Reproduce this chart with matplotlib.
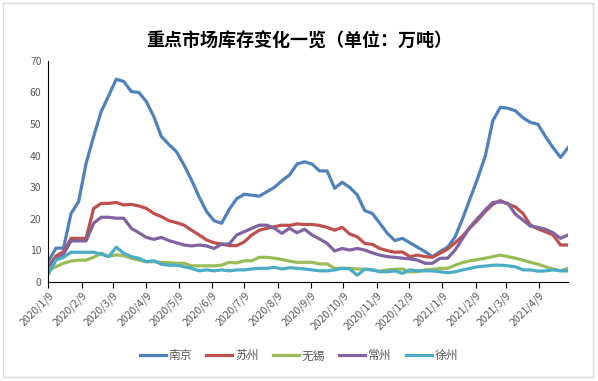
import matplotlib
matplotlib.use('Agg')
import matplotlib.pyplot as plt
import matplotlib.dates as mdates
import pandas as pd
from matplotlib.patches import Rectangle

plt.rcParams['font.family'] = ['Noto Sans CJK SC', 'DejaVu Sans']

# weekly dates, 2020/1/9 .. 2021/5/6
dates = pd.date_range('2020-01-09', periods=70, freq='7D')

nanjing = [6.5, 10.6, 10.6, 21.6, 25.3, 37.5, 46.0, 53.9, 59.0, 64.2,
           63.5, 60.3, 60.0, 57.1, 52.3, 46.0, 43.5, 41.2, 37.0, 32.2,
           26.9, 22.2, 19.3, 18.5, 22.9, 26.3, 27.7, 27.4, 27.1, 28.5,
           29.9, 32.0, 33.8, 37.3, 38.0, 37.3, 35.1, 35.1, 29.6, 31.5,
           29.9, 27.5, 22.5, 21.6, 18.5, 15.3, 13.0, 13.7, 12.3, 10.9,
           9.5, 7.9, 9.5, 10.9, 14.2, 20.0, 26.4, 32.8, 39.8, 51.0,
           55.3, 55.0, 54.2, 52.0, 50.5, 49.9, 46.0, 42.5, 39.4, 42.5]
suzhou = [4.7, 8.1, 9.5, 13.7, 13.7, 13.7, 23.2, 24.8, 24.8, 25.1,
          24.3, 24.5, 24.0, 23.2, 21.6, 20.6, 19.3, 18.7, 17.9, 16.3,
          14.8, 13.2, 12.3, 11.9, 11.4, 11.4, 12.6, 14.8, 16.3, 16.9,
          17.4, 17.9, 17.8, 18.3, 18.1, 18.1, 17.8, 17.2, 16.3, 17.2,
          15.1, 14.2, 12.1, 11.8, 10.5, 9.8, 9.3, 9.4, 7.9, 8.4,
          7.9, 7.7, 9.0, 10.3, 12.3, 14.5, 17.1, 19.5, 22.2, 24.5,
          25.7, 24.6, 23.7, 21.6, 17.9, 16.7, 15.8, 14.8, 11.6, 11.6]
wuxi = [3.7, 4.7, 5.8, 6.5, 6.8, 6.8, 7.7, 9.0, 8.0, 8.5,
        8.2, 7.4, 6.8, 6.3, 6.3, 6.1, 6.0, 5.8, 5.8, 5.0,
        5.0, 5.0, 5.0, 5.2, 6.1, 5.9, 6.6, 6.6, 7.7, 7.7,
        7.4, 7.0, 6.5, 6.1, 6.1, 6.1, 5.6, 5.6, 4.2, 4.2,
        4.2, 4.0, 3.9, 3.7, 3.3, 3.7, 3.9, 4.0, 3.1, 3.1,
        3.7, 3.9, 4.2, 4.2, 5.2, 6.0, 6.6, 7.0, 7.4, 7.9,
        8.4, 7.9, 7.4, 6.8, 6.1, 5.5, 4.7, 4.0, 3.4, 4.2]
changzhou = [5.2, 7.0, 8.7, 12.9, 12.9, 12.9, 18.5, 20.4, 20.4, 20.1,
             20.1, 16.9, 15.5, 14.0, 13.4, 14.0, 13.0, 12.3, 11.6, 11.3,
             11.6, 11.3, 10.5, 11.9, 11.9, 14.8, 15.8, 16.9, 17.9, 17.9,
             16.9, 15.3, 16.9, 15.5, 16.6, 14.8, 13.5, 12.1, 9.7, 10.5,
             10.0, 10.5, 10.0, 9.1, 8.4, 7.9, 7.7, 7.4, 7.2, 6.8,
             5.8, 5.8, 7.4, 7.4, 10.0, 13.7, 17.4, 20.1, 22.7, 25.1,
             25.3, 24.8, 21.4, 19.5, 17.6, 17.2, 16.6, 15.5, 13.7, 14.8]
xuzhou = [2.4, 6.8, 7.7, 9.3, 9.3, 9.3, 9.3, 8.7, 7.9, 10.9,
          9.0, 7.9, 7.4, 6.3, 6.6, 5.5, 5.2, 5.2, 4.7, 4.2,
          3.4, 3.7, 3.4, 3.7, 3.4, 3.7, 3.7, 4.0, 4.2, 4.2,
          4.5, 4.0, 4.4, 4.2, 4.0, 3.7, 3.4, 3.4, 3.7, 4.2,
          4.0, 2.0, 3.9, 3.7, 3.1, 3.1, 3.4, 2.6, 3.7, 3.4,
          3.4, 3.4, 3.1, 2.8, 3.1, 3.7, 4.2, 4.7, 4.9, 5.2,
          5.2, 5.0, 4.7, 3.7, 3.7, 3.3, 3.4, 3.7, 3.4, 3.4]

names = ['南京', '苏州', '无锡', '常州', '徐州']
colors = ['#4F81BD', '#C0504D', '#9BBB59', '#8064A2', '#4BACC6']
series = [nanjing, suzhou, wuxi, changzhou, xuzhou]

fig = plt.figure(figsize=(5.98, 3.81), dpi=100)
ax = fig.add_axes([0.081, 0.261, 0.869, 0.579])

for name, col, vals in zip(names, colors, series):
    ax.plot(dates, vals, color=col, lw=2.3, label=name, solid_joinstyle='round')

ax.set_ylim(0, 70)
ax.set_yticks(range(0, 71, 10))
ax.set_xlim(dates[0], dates[-1])
ax.xaxis.set_major_locator(mdates.MonthLocator(bymonthday=9))
ax.xaxis.set_major_formatter(plt.FuncFormatter(
    lambda v, p: '{0.year}/{0.month}/{0.day}'.format(mdates.num2date(v))))

for lab in ax.get_xticklabels():
    lab.set_rotation(45)
    lab.set_ha('right')
    lab.set_rotation_mode('anchor')

ax.tick_params(axis='x', length=4, width=0.8, colors='black', labelcolor='#595959',
               labelsize=7.5, pad=2)
ax.tick_params(axis='y', length=0, labelcolor='#595959', labelsize=7.5, pad=5)
ax.spines['top'].set_visible(False)
ax.spines['right'].set_visible(False)
ax.spines['left'].set_linewidth(0.8)
ax.spines['bottom'].set_linewidth(0.8)

fig.text(0.5, 0.891, '重点市场库存变化一览（单位：万吨）', ha='center', va='center',
         fontsize=13, fontweight='bold', color='black')

fig.legend(loc='center', bbox_to_anchor=(0.5, 0.066), ncol=5, frameon=False,
           fontsize=8.5, labelcolor='#595959', handlelength=2.2, columnspacing=1.2,
           handletextpad=0.25)

# chart border
fig.patches.append(Rectangle((0.0042, 0.0105), 0.988, 0.9806, transform=fig.transFigure,
                             fill=False, edgecolor='#D9D9D9', lw=1))

fig.savefig('out.png', dpi=100)
